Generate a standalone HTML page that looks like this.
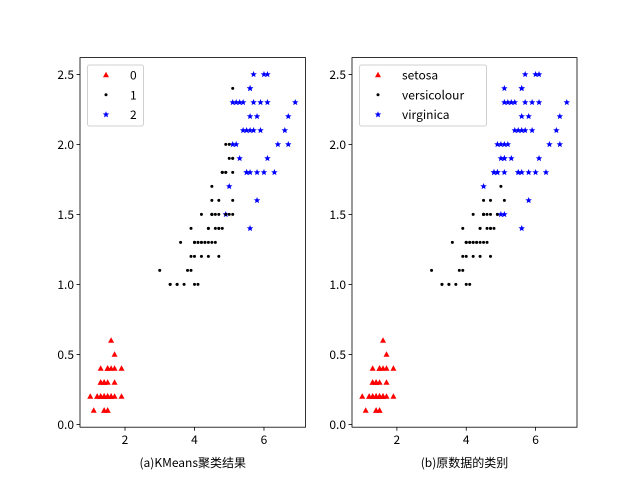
<!DOCTYPE html>
<html><head><meta charset="utf-8"><style>
body{margin:0;background:#fff}
svg text{font-family:"WenQuanYi Zen Hei Mono","WenQuanYi Zen Hei","WenQuanYi Zen Hei Sharp","Noto Sans CJK SC",sans-serif;font-size:12px;fill:#000}
</style></head><body>
<svg id="fig" width="640" height="480" xmlns="http://www.w3.org/2000/svg"></svg>
<script>
const petalLength=[1.4,1.4,1.3,1.5,1.4,1.7,1.4,1.5,1.4,1.5,1.5,1.6,1.4,1.1,1.2,1.5,1.3,1.4,1.7,1.5,1.7,1.5,1.0,1.7,1.9,1.6,1.6,1.5,1.4,1.6,1.6,1.5,1.5,1.4,1.5,1.2,1.3,1.4,1.3,1.5,1.3,1.3,1.3,1.6,1.9,1.4,1.6,1.4,1.5,1.4,
4.7,4.5,4.9,4.0,4.6,4.5,4.7,3.3,4.6,3.9,3.5,4.2,4.0,4.7,3.6,4.4,4.5,4.1,4.5,3.9,4.8,4.0,4.9,4.7,4.3,4.4,4.8,5.0,4.5,3.5,3.8,3.7,3.9,5.1,4.5,4.5,4.7,4.4,4.1,4.0,4.4,4.6,4.0,3.3,4.2,4.2,4.2,4.3,3.0,4.1,
6.0,5.1,5.9,5.6,5.8,6.6,4.5,6.3,5.8,6.1,5.1,5.3,5.5,5.0,5.1,5.3,5.5,6.7,6.9,5.0,5.7,4.9,6.7,4.9,5.7,6.0,4.8,4.9,5.6,5.8,6.1,6.4,5.6,5.1,5.6,6.1,5.6,5.5,4.8,5.4,5.6,5.1,5.1,5.9,5.7,5.2,5.0,5.2,5.4,5.1];
const petalWidth=[0.2,0.2,0.2,0.2,0.2,0.4,0.3,0.2,0.2,0.1,0.2,0.2,0.1,0.1,0.2,0.4,0.4,0.3,0.3,0.3,0.2,0.4,0.2,0.5,0.2,0.2,0.4,0.2,0.2,0.2,0.2,0.4,0.1,0.2,0.2,0.2,0.2,0.1,0.2,0.2,0.3,0.3,0.2,0.6,0.4,0.3,0.2,0.2,0.2,0.2,
1.4,1.5,1.5,1.3,1.5,1.3,1.6,1.0,1.3,1.4,1.0,1.5,1.0,1.4,1.3,1.4,1.5,1.0,1.5,1.1,1.8,1.3,1.5,1.2,1.3,1.4,1.4,1.7,1.5,1.0,1.1,1.0,1.2,1.6,1.5,1.6,1.5,1.3,1.3,1.3,1.2,1.4,1.2,1.0,1.3,1.2,1.3,1.3,1.1,1.3,
2.5,1.9,2.1,1.8,2.2,2.1,1.7,1.8,1.8,2.5,2.0,1.9,2.1,2.0,2.4,2.3,1.8,2.2,2.3,1.5,2.3,2.0,2.0,1.8,2.1,1.8,1.8,1.8,2.1,1.6,1.9,2.0,2.2,1.5,1.4,2.3,2.4,1.8,1.8,2.1,2.4,2.3,1.9,2.3,2.5,2.3,1.9,2.0,2.3,1.8];
const trueLabels=[];for(let i=0;i<150;i++)trueLabels.push(Math.floor(i/50));
const kmOverride={52:2,77:2,101:1,106:1,113:1,114:1,119:1,121:1,123:1,126:1,127:1,133:1,138:1,142:1,146:1,149:1};
const kmLabels=trueLabels.map((l,i)=>kmOverride[i]!==undefined?kmOverride[i]:l);
const xTicks=[2,4,6];
const yTicks=[0.0,0.5,1.0,1.5,2.0,2.5];
const yTickLabels=["0.0","0.5","1.0","1.5","2.0","2.5"];
const legendA=["0","1","2"];
const legendB=["setosa","versicolour","virginica"];
const colors=["#ff0000","#000000","#0000ff"];
const NS="http://www.w3.org/2000/svg";
const svg=document.getElementById('fig');
function mk(t,a,p){const e=document.createElementNS(NS,t);for(const k in a)e.setAttribute(k,a[k]);(p||svg).appendChild(e);return e;}
function marker(g,k,cx,cy){
  if(k===0)return mk('polygon',{points:`${cx},${cy-3.2} ${cx-3},${cy+2.3} ${cx+3},${cy+2.3}`,fill:colors[0]},g);
  if(k===1)return mk('circle',{cx:cx,cy:cy,r:1.5,fill:colors[1]},g);
  let p=[];for(let j=0;j<10;j++){const r=j%2?1.5:3.4,a=-Math.PI/2+j*Math.PI/5;p.push((cx+r*Math.cos(a)).toFixed(2)+','+(cy+r*Math.sin(a)).toFixed(2));}
  return mk('polygon',{points:p.join(' '),fill:colors[2]},g);
}
function panel(L,R,labels,legend,legW,title,name){
  const T=57.6,B=427.2,x0=0.705,x1=7.195,y0=-0.02,y1=2.62;
  const sx=v=>L+(v-x0)/(x1-x0)*(R-L), sy=v=>B-(v-y0)/(y1-y0)*(B-T);
  const g=mk('g',{});
  const pts=mk('g',{},g);
  for(let i=0;i<150;i++){const m=marker(pts,labels[i],sx(petalLength[i]),sy(petalWidth[i]));}
  const fr=mk('rect',{x:L,y:T,width:R-L,height:B-T,fill:'none',stroke:'#000','stroke-width':0.8},g);
  
  xTicks.forEach(v=>{const x=sx(v);mk('line',{x1:x,x2:x,y1:B,y2:B+3.5,stroke:'#000','stroke-width':0.8},g);
    const t=mk('text',{x:x,y:B+17,'text-anchor':'middle'},g);t.textContent=v;});
  yTicks.forEach((v,i)=>{const y=sy(v);mk('line',{x1:L-3.5,x2:L,y1:y,y2:y,stroke:'#000','stroke-width':0.8},g);
    const t=mk('text',{x:L-6,y:y+4.5,'text-anchor':'end'},g);t.textContent=yTickLabels[i];});
  const xt=mk('text',{x:(L+R)/2,y:467,'text-anchor':'middle'},g);xt.textContent=title;
  const lg=mk('g',{},g);
  mk('rect',{x:L+7.5,y:65,width:legW,height:61,rx:2,fill:'#fff','fill-opacity':0.8,stroke:'#d0d0d0','stroke-width':1},lg);
  legend.forEach((s,k)=>{const y=75+k*19.8;marker(lg,k,L+26,y);
    const t=mk('text',{x:L+50,y:y+4.5},lg);t.textContent=s;});
}
panel(80,305.5,kmLabels,legendA,56,"(a)KMeans聚类结果","kmeans-panel");
panel(352,577,trueLabels,legendB,127,"(b)原数据的类别","original-panel");
</script>
</body></html>
